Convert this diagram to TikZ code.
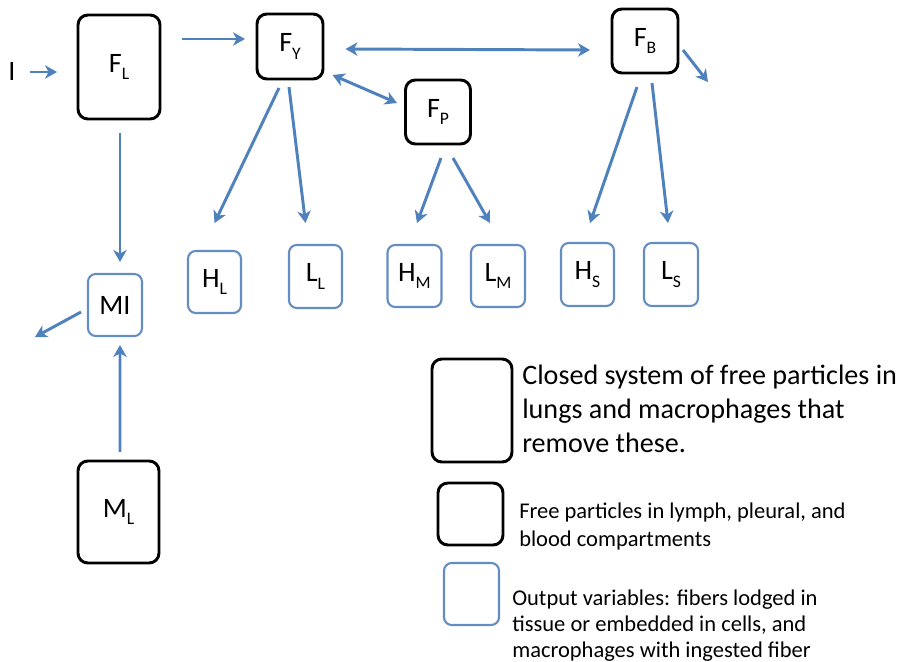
\documentclass[tikz,border=0pt]{standalone}
\usepackage{fontspec}
\setmainfont{Carlito}
\usetikzlibrary{arrows.meta,calc}

\definecolor{flowblue}{RGB}{79,129,189}
\definecolor{outblue}{RGB}{100,141,196}
\def\px{0.025cm}	%one unit of the grid below
\newcommand{\cmp}[2]{#1\raisebox{-.55ex}{\fontsize{12.5}{12.5}\selectfont #2}}	%compartment name with index

\tikzset{
	sz/.style 2 args={minimum width=#1*\px, minimum height=#2*\px, inner sep=0pt, outer sep=0pt},
	pool/.style={draw=black, line width=2.1pt, rounded corners=7pt, font=\fontsize{20}{22}\selectfont},
	outvar/.style={draw=outblue, line width=1.5pt, rounded corners=5.5pt, font=\fontsize{20}{22}\selectfont},
	flow/.style={draw=flowblue, line width=2.1pt, -{Stealth[length=8.5pt,width=9.5pt,inset=2.5pt]}},
	flows/.style={flow, {Stealth[length=8.5pt,width=9.5pt,inset=2.5pt]}-{Stealth[length=8.5pt,width=9.5pt,inset=2.5pt]}},
	keytext/.style={anchor=north west, inner sep=0pt, align=left}
}

\begin{document}
\begin{tikzpicture}[x=\px, y=-\px]
	\useasboundingbox (0,0) rectangle (903,662);

	%free particle pools
	\node (inp) at (12,71) [font=\fontsize{20}{22}\selectfont] {I};
	\node[pool, sz={82}{104}] (fl) at (119,67) {\cmp{F}{L}};
	\node[pool, sz={66}{65}] (fy) at (290,46.5) {\cmp{F}{Y}};
	\node[pool, sz={65}{64}] (fp) at (438,112) {\cmp{F}{P}};
	\node[pool, sz={66}{64}] (fb) at (645,41) {\cmp{F}{B}};
	\node[pool, sz={81}{102}] (ml) at (118.5,512) {\cmp{M}{L}};

	%output variables
	\node[outvar, sz={54}{62}] (mi) at (115,305) {MI};
	\node[outvar, sz={53}{62}] (hl) at (214.5,282) {\cmp{H}{L}};
	\node[outvar, sz={53}{63}] (ll) at (315.5,276.5) {\cmp{L}{L}};
	\node[outvar, sz={54}{62}] (hm) at (414.5,276) {\cmp{H}{M}};
	\node[outvar, sz={54}{62}] (lm) at (498,276) {\cmp{L}{M}};
	\node[outvar, sz={53}{63}] (hs) at (587.5,274.5) {\cmp{H}{S}};
	\node[outvar, sz={54}{63}] (ls) at (671,274.5) {\cmp{L}{S}};

	\coordinate (fbout) at (708,82);
	\coordinate (miout) at (35,337);

	%flows between pools
	\draw[flow] ($(inp.east)+(9,1)$) -- ($(fl.west)+(-21,5)$);
	\draw[flow] ($(fl.north east)+(22,24)$) -- ($(fy.west)+(-12,-7.5)$);
	\draw[flows] ($(fy.east)+(22.5,2.5)$) -- ($(fb.west)+(-22,9)$);
	\draw[flows] ($(fy.south east)+(9.5,-4)$) -- ($(fp.north west)+(-8.5,23)$);
	\draw[flow] ($(fb.east)+(5,9)$) -- (fbout);

	%flows into the output variables
	\draw[flow] ($(fy.south)+(-11,9)$) -- ($(hl.north)+(0,-28)$);
	\draw[flow] ($(fy.south)+(-1,8)$) -- ($(ll.north)+(-10,-22)$);
	\draw[flow] ($(fp.south)+(3,14)$) -- ($(hm.north)+(2.5,-22)$);
	\draw[flow] ($(fp.south)+(15,14)$) -- ($(lm.north)+(-8,-22)$);
	\draw[flow] ($(fb.south)+(-8,14)$) -- ($(hs.north)+(2.5,-20)$);
	\draw[flow] ($(fb.south)+(7,10)$) -- ($(ls.north)+(-3,-20)$);
	\draw[flow] ($(fl.south)+(1,14)$) -- ($(mi.north)+(5,-12)$);
	\draw[flow] ($(ml.north)+(1.5,-9)$) -- ($(mi.south)+(5,9)$);
	\draw[flow] ($(mi.west)+(-7,7)$) -- (miout);

	%key
	\node[pool, sz={80}{103}] (keyclosed) at (472,410.5) {};
	\node[pool, sz={65}{62}] (keyfree) at (470.5,514) {};
	\node[outvar, sz={55}{62}] (keyout) at (471.5,594) {};
	\node[keytext, font=\fontsize{20}{24.2}\selectfont] (txtclosed) at (522,365)
		{Closed system of free particles in\\lungs and macrophages that\\remove these.};
	\node[keytext, font=\fontsize{16}{19.9}\selectfont] (txtfree) at (519,503)
		{Free particles in lymph, pleural, and\\blood compartments};
	\node[keytext, font=\fontsize{16}{18.5}\selectfont] (txtout) at (512,590)
		{Output variables: fibers lodged in\\tissue or embedded in cells, and\\macrophages with ingested fiber};
\end{tikzpicture}
\end{document}
